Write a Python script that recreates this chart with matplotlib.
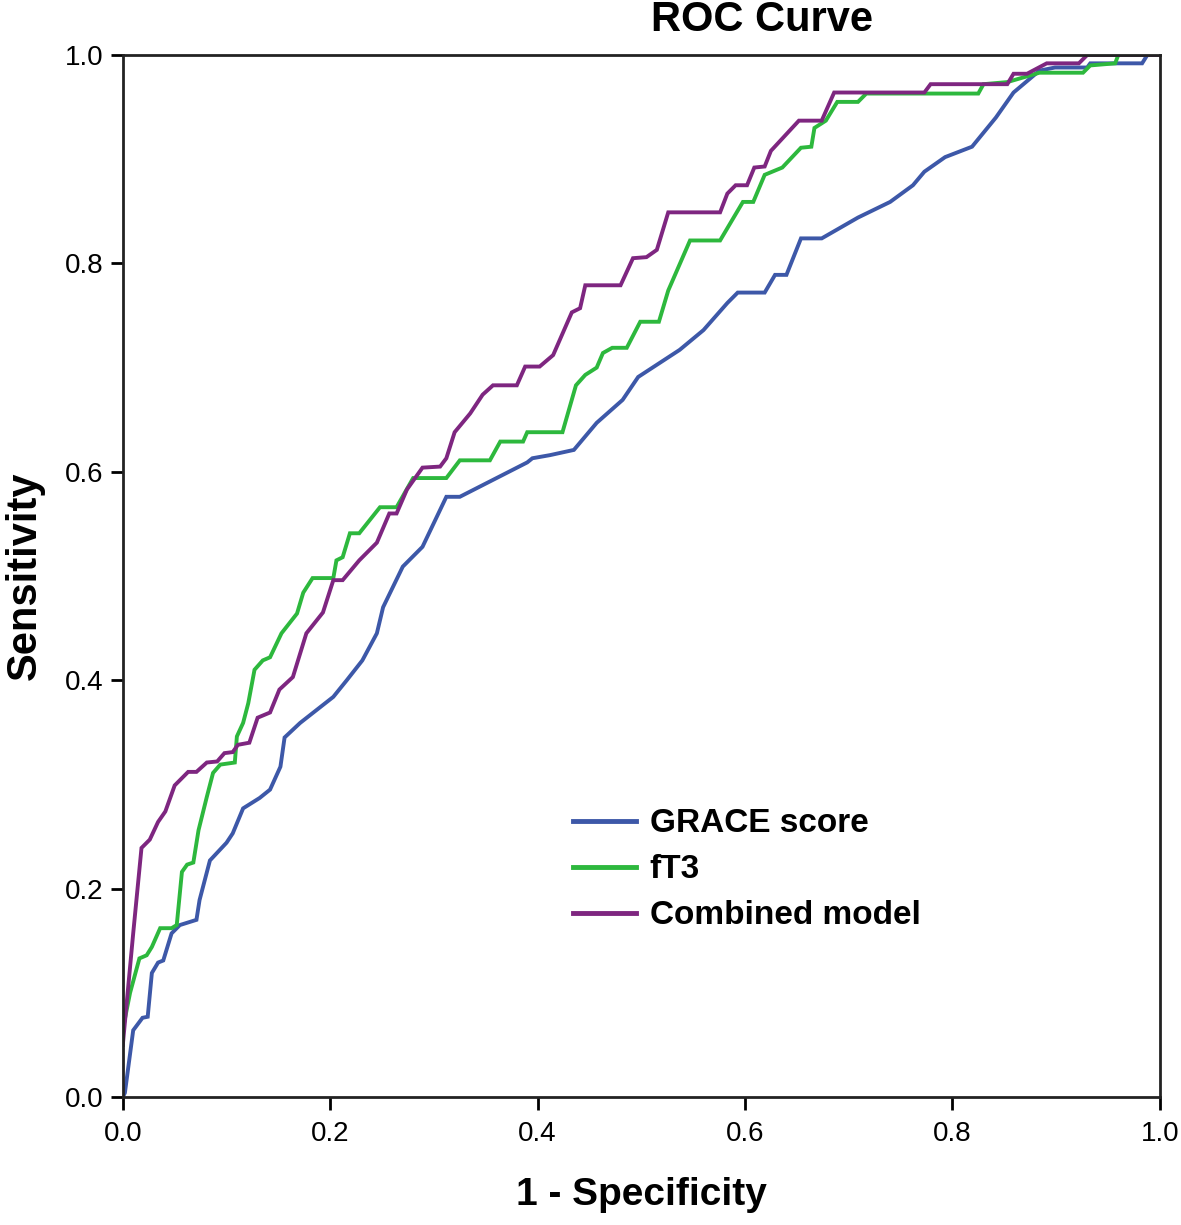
import matplotlib
matplotlib.use("Agg")
from matplotlib import pyplot as plt

plt.rcParams['font.family'] = ['Liberation Sans', 'DejaVu Sans']

# ROC points (1 - specificity, sensitivity)
grace_fpr = [0.0, 0.002, 0.010, 0.019, 0.024, 0.028, 0.034, 0.039, 0.047, 0.055, 0.071, 0.074,
             0.084, 0.100, 0.106, 0.116, 0.132, 0.142, 0.152, 0.156, 0.171, 0.203, 0.216, 0.231,
             0.245, 0.251, 0.270, 0.289, 0.312, 0.325, 0.390, 0.395, 0.412, 0.435, 0.457, 0.482,
             0.497, 0.537, 0.560, 0.583, 0.593, 0.619, 0.629, 0.640, 0.654, 0.674, 0.709, 0.740,
             0.762, 0.773, 0.793, 0.819, 0.842, 0.859, 0.884, 0.899, 0.930, 0.933, 0.983, 0.988, 1.0]
grace_tpr = [0.0, 0.004, 0.064, 0.076, 0.077, 0.119, 0.129, 0.131, 0.157, 0.165, 0.170, 0.189,
             0.227, 0.244, 0.253, 0.277, 0.287, 0.295, 0.317, 0.345, 0.359, 0.384, 0.400, 0.419,
             0.445, 0.470, 0.509, 0.528, 0.576, 0.576, 0.609, 0.613, 0.616, 0.621, 0.647, 0.669,
             0.691, 0.717, 0.736, 0.762, 0.772, 0.772, 0.789, 0.789, 0.824, 0.824, 0.844, 0.859,
             0.875, 0.888, 0.902, 0.912, 0.940, 0.964, 0.985, 0.988, 0.988, 0.992, 0.992, 1.0, 1.0]

ft3_fpr = [0.0, 0.001, 0.007, 0.016, 0.023, 0.028, 0.036, 0.047, 0.052, 0.057, 0.062, 0.068,
           0.073, 0.081, 0.087, 0.094, 0.108, 0.110, 0.116, 0.121, 0.127, 0.135, 0.142, 0.153,
           0.168, 0.174, 0.183, 0.203, 0.206, 0.212, 0.219, 0.228, 0.248, 0.264, 0.280, 0.312,
           0.325, 0.354, 0.364, 0.386, 0.390, 0.424, 0.437, 0.446, 0.457, 0.463, 0.472, 0.486,
           0.499, 0.517, 0.526, 0.547, 0.576, 0.598, 0.608, 0.619, 0.636, 0.654, 0.664, 0.667,
           0.678, 0.689, 0.709, 0.717, 0.825, 0.830, 0.853, 0.884, 0.926, 0.933, 0.957, 0.960, 1.0]
ft3_tpr = [0.06, 0.070, 0.100, 0.133, 0.136, 0.144, 0.162, 0.162, 0.165, 0.216, 0.223, 0.225,
           0.256, 0.288, 0.311, 0.319, 0.321, 0.346, 0.359, 0.378, 0.410, 0.419, 0.422, 0.445,
           0.464, 0.484, 0.498, 0.498, 0.515, 0.518, 0.541, 0.541, 0.566, 0.566, 0.594, 0.594,
           0.611, 0.611, 0.629, 0.629, 0.638, 0.638, 0.683, 0.693, 0.700, 0.714, 0.719, 0.719,
           0.744, 0.744, 0.774, 0.822, 0.822, 0.859, 0.859, 0.885, 0.892, 0.911, 0.912, 0.930,
           0.937, 0.955, 0.955, 0.963, 0.963, 0.972, 0.974, 0.983, 0.983, 0.990, 0.992, 1.0, 1.0]

comb_fpr = [0.0, 0.001, 0.010, 0.018, 0.026, 0.034, 0.041, 0.050, 0.063, 0.071, 0.081, 0.091,
            0.098, 0.106, 0.111, 0.122, 0.130, 0.142, 0.151, 0.164, 0.177, 0.193, 0.203, 0.212,
            0.228, 0.245, 0.257, 0.264, 0.274, 0.289, 0.306, 0.312, 0.320, 0.335, 0.347, 0.357,
            0.380, 0.388, 0.402, 0.415, 0.433, 0.441, 0.446, 0.480, 0.492, 0.505, 0.515, 0.526,
            0.576, 0.583, 0.591, 0.602, 0.609, 0.619, 0.625, 0.652, 0.674, 0.686, 0.773, 0.779,
            0.853, 0.859, 0.872, 0.891, 0.922, 0.930, 1.0]
comb_tpr = [0.05, 0.061, 0.157, 0.239, 0.247, 0.264, 0.274, 0.299, 0.312, 0.312, 0.321, 0.322,
            0.330, 0.331, 0.338, 0.340, 0.364, 0.369, 0.391, 0.403, 0.445, 0.465, 0.496, 0.496,
            0.515, 0.532, 0.560, 0.560, 0.583, 0.604, 0.605, 0.613, 0.638, 0.656, 0.674, 0.683,
            0.683, 0.701, 0.701, 0.712, 0.753, 0.757, 0.779, 0.779, 0.805, 0.806, 0.813, 0.849,
            0.849, 0.867, 0.875, 0.875, 0.892, 0.893, 0.908, 0.937, 0.937, 0.964, 0.964, 0.972,
            0.972, 0.982, 0.982, 0.992, 0.992, 1.0, 1.0]

labels = ["GRACE score", "fT3", "Combined model"]
colors = ['#3D58A8', '#2DB83D', '#7E2680']
ticks = [0.0, 0.2, 0.4, 0.6, 0.8, 1.0]

fig = plt.figure(figsize=(11.81, 12.25), dpi=100)
ax = fig.add_axes([0.104, 0.1045, 0.878, 0.8506])

for fpr, tpr, lab, col in zip([grace_fpr, ft3_fpr, comb_fpr], [grace_tpr, ft3_tpr, comb_tpr],
                              labels, colors):
    ax.plot(fpr, tpr, color=col, lw=2.8, label=lab, solid_joinstyle='miter')

ax.set_xlim(0, 1)
ax.set_ylim(0, 1)
ax.set_xticks(ticks)
ax.set_yticks(ticks)
ax.set_xticklabels([f"{t:.1f}" for t in ticks])
ax.set_yticklabels([f"{t:.1f}" for t in ticks])
ax.tick_params(labelsize=20, length=9, width=2, direction='out', pad=5)
ax.tick_params(axis='x', pad=8)
for sp in ax.spines.values():
    sp.set_linewidth(2)
    sp.set_color('#222222')

ax.set_xlabel("1 - Specificity", fontsize=28, fontweight='bold', labelpad=22)
ax.set_ylabel("Sensitivity", fontsize=30, fontweight='bold', labelpad=14)
fig.text(0.645, 0.984, "ROC Curve", fontsize=30, fontweight='bold', ha='center', va='center')

leg = ax.legend(loc='upper left', bbox_to_anchor=(0.434, 0.277), frameon=False,
                fontsize=24, handlelength=1.9, handletextpad=0.4, labelspacing=0.45,
                borderpad=0, borderaxespad=0)
for t in leg.get_texts():
    t.set_fontweight('bold')
for h in leg.get_lines():
    h.set_linewidth(3.5)

fig.savefig("out.png", dpi=100)
